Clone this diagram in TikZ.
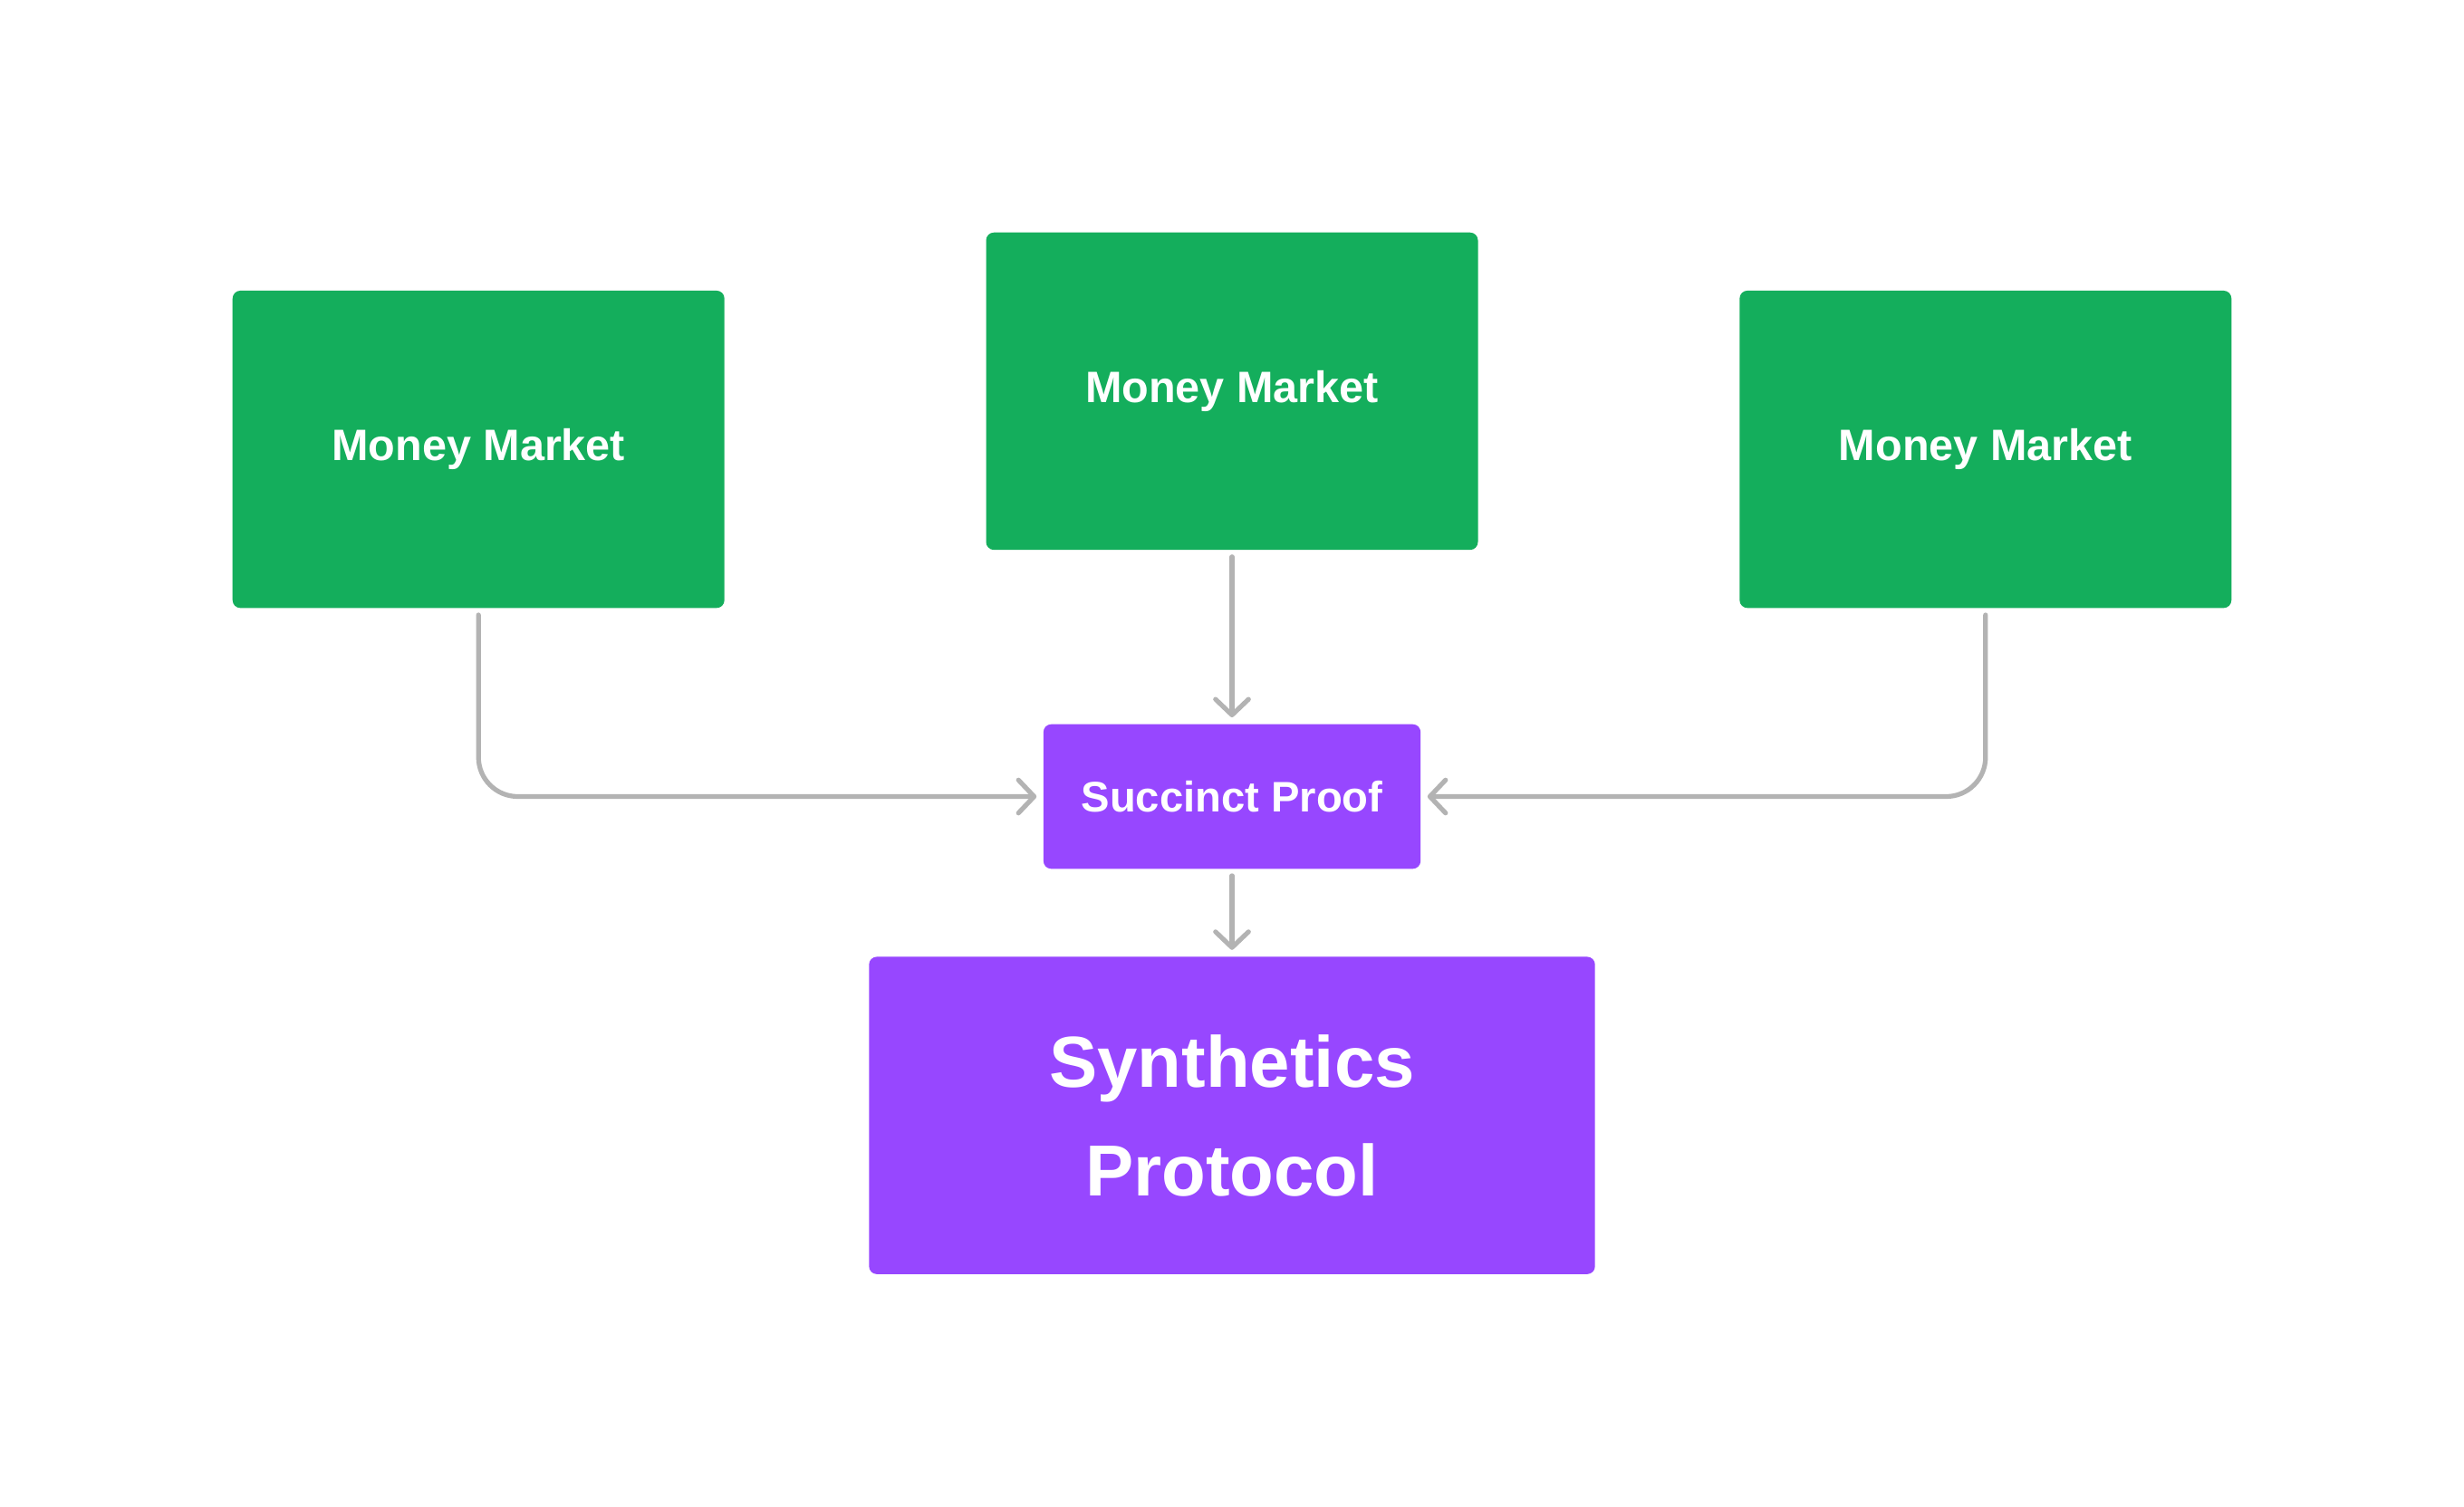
\documentclass[tikz,border=0pt]{standalone}
\usepackage{fontspec}
\setmainfont{Liberation Sans}
\usetikzlibrary{arrows.meta}
\definecolor{mmgreen}{HTML}{14AE5C}
\definecolor{fpurple}{HTML}{9747FF}
\definecolor{agray}{HTML}{B3B3B3}
\tikzset{
  box/.style={rounded corners=2.5pt, inner sep=0pt, text=white, align=center},
  mm/.style={box, fill=mmgreen, minimum width=156.5pt, minimum height=101pt, font=\fontsize{14}{16}\selectfont\bfseries},
  sproof/.style={box, fill=fpurple, minimum width=120pt, minimum height=46pt, font=\fontsize{13.6}{16}\selectfont\bfseries},
  synth/.style={box, fill=fpurple, minimum width=231pt, minimum height=101pt, font=\fontsize{23}{34.5}\selectfont\bfseries},
  arr/.style={draw=agray, line width=1.5pt, line cap=round, rounded corners=12.5pt,
    -{Straight Barb[length=5pt,width=10.5pt,line cap=round,line join=round]},
    shorten <=2pt, shorten >=2pt}
}
\begin{document}
\begin{tikzpicture}[x=0.5pt,y=-0.5pt]
\useasboundingbox[fill=white] (0,0) rectangle (1568,959.2);
\node[mm] (m1) at (304.5,286) {Money Market};
\node[mm] (m2) at (784,249) {Money Market};
\node[mm] (m3) at (1263.5,286) {Money Market};
\node[sproof] (sp) at (784,507) {Succinct Proof};
\node[synth] (syn) at (784,710) {Synthetics\\Protocol};
\draw[arr] (m1.south) |- (sp.west);
\draw[arr] (m3.south) |- (sp.east);
\draw[arr] (m2.south) -- (sp.north);
\draw[arr] (sp.south) -- (syn.north);
\end{tikzpicture}
\end{document}
